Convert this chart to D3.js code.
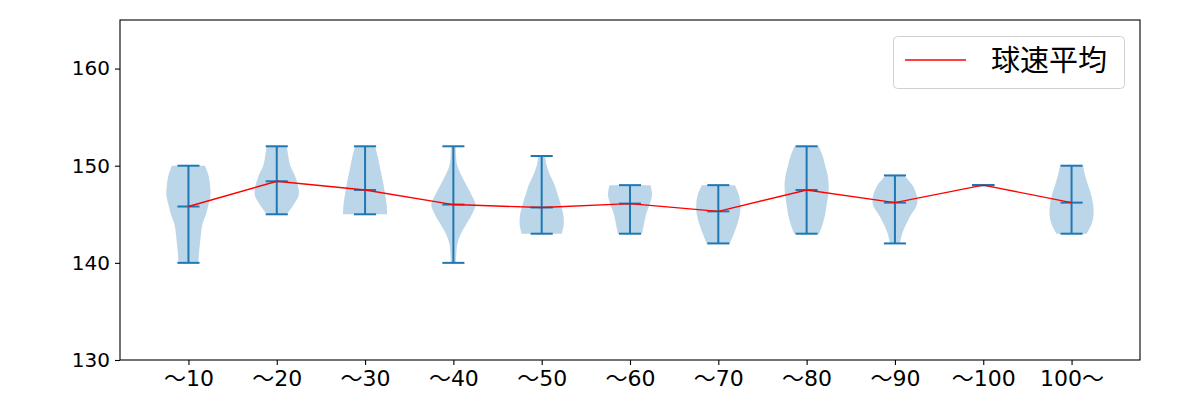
<!DOCTYPE html>
<html>
<head>
<meta charset="utf-8">
<script src="https://cdn.jsdelivr.net/npm/d3@7"></script>
<style>
  html, body { margin: 0; padding: 0; background: #fff; }
  svg { display: block; }
  text { font-family: "Noto Sans CJK JP", "Noto Sans", sans-serif; fill: #000; }
  .tick text { font-family: "DejaVu Sans", "Noto Sans CJK JP", sans-serif; }
</style>
</head>
<body>
<svg id="chart" width="1200" height="400"></svg>
<script>
// ---- data ----
const categories = ["〜10", "〜20", "〜30", "〜40", "〜50", "〜60", "〜70", "〜80", "〜90", "〜100", "100〜"];
const minValues  = [140, 145, 145, 140, 143, 143, 142, 143, 142, 148, 143];
const maxValues  = [150, 152, 152, 152, 151, 148, 148, 152, 149, 148, 150];
const meanValues = [145.8, 148.4, 147.5, 146.0, 145.7, 146.1, 145.3, 147.5, 146.2, 148.0, 146.2];
// relative violin widths, sampled at 1 km/h steps from max down to min
const densityProfiles = [
  [16.5, 20, 21.5, 22, 20, 17.5, 14, 12.5, 11.5, 10.5, 10],
  [10, 11.5, 13.5, 18, 21, 22, 17, 10],
  [10, 12.5, 14.5, 16.5, 18.5, 20, 21.5, 22],
  [2.3, 2.7, 4, 8, 13, 18, 22, 18.5, 13, 7.5, 4, 3, 2.5],
  [3.3, 5, 8.5, 13, 16, 19, 21.5, 22, 20],
  [20.5, 22, 19.5, 16, 14, 12],
  [16.5, 20.5, 22, 21.5, 19, 15.5, 11.5],
  [12, 16, 18.5, 21, 22, 21.5, 20, 18.5, 16, 12.5],
  [9, 17, 21, 21.5, 16, 11, 7, 5],
  [],
  [11.5, 13.5, 16.5, 19.5, 21.5, 22, 20, 15]
];
const yTicks = [130, 140, 150, 160];
const legendLabel = "球速平均";

// ---- layout ----
const svg = d3.select("#chart");
const mLeft = 120, mRight = 1140, mTop = 20, mBottom = 360;
const positions = categories.map((_, i) => i + 1);
const x = d3.scaleLinear().domain([0.225, 11.775]).range([mLeft, mRight]);
const y = d3.scaleLinear().domain([130, 165]).range([mBottom, mTop]);
const blue = "#1f77b4";
const halfW = x(0.25) - x(0);
const capW = x(0.125) - x(0);

const plot = svg.append("g");

// violin bodies
const area = d3.area()
  .y(d => y(d.v))
  .x0(d => d.c - d.w)
  .x1(d => d.c + d.w)
  .curve(d3.curveCatmullRom.alpha(0.5));

densityProfiles.forEach((prof, i) => {
  if (!prof.length) return;
  const mx = d3.max(prof);
  const c = x(positions[i]);
  const pts = prof.map((w, k) => ({ v: maxValues[i] - k, w: w / mx * halfW, c }));
  plot.append("path")
    .attr("d", area(pts))
    .attr("fill", blue)
    .attr("fill-opacity", 0.3)
    .attr("stroke", "none");
});

// vertical bars and caps
categories.forEach((cat, i) => {
  const c = x(positions[i]);
  plot.append("line")
    .attr("x1", c).attr("x2", c)
    .attr("y1", y(minValues[i])).attr("y2", y(maxValues[i]))
    .attr("stroke", blue).attr("stroke-width", 2);
  [minValues[i], maxValues[i], meanValues[i]].forEach(v => {
    plot.append("line")
      .attr("x1", c - capW).attr("x2", c + capW)
      .attr("y1", y(v)).attr("y2", y(v))
      .attr("stroke", blue).attr("stroke-width", 2);
  });
});

// mean line
const line = d3.line().x((d, i) => x(positions[i])).y(d => y(d));
plot.append("path")
  .attr("d", line(meanValues))
  .attr("fill", "none")
  .attr("stroke", "red")
  .attr("stroke-width", 1.4);

// axes
const xAxis = d3.axisBottom(x).tickValues(positions).tickFormat((d, i) => categories[i]).tickSize(5).tickPadding(5);
const gx = svg.append("g").attr("transform", `translate(0,${mBottom})`).call(xAxis);
gx.select(".domain").remove();
gx.selectAll("line").attr("stroke", "#000").attr("stroke-width", 1.1);
gx.selectAll("text").attr("font-size", 22).attr("fill", "#000");

const yAxis = d3.axisLeft(y).tickValues(yTicks).tickSize(5).tickPadding(5);
const gy = svg.append("g").attr("transform", `translate(${mLeft},0)`).call(yAxis);
gy.select(".domain").remove();
gy.selectAll("line").attr("stroke", "#000").attr("stroke-width", 1.1);
gy.selectAll("text").attr("font-size", 20).attr("fill", "#000");

// frame
svg.append("rect")
  .attr("x", mLeft).attr("y", mTop)
  .attr("width", mRight - mLeft).attr("height", mBottom - mTop)
  .attr("fill", "none").attr("stroke", "#000").attr("stroke-width", 1.1);

// legend
const lg = svg.append("g");
lg.append("rect")
  .attr("x", 893.5).attr("y", 36.5).attr("width", 231).attr("height", 52)
  .attr("rx", 4).attr("fill", "#fff").attr("fill-opacity", 0.8)
  .attr("stroke", "#d0d0d0").attr("stroke-width", 1);
lg.append("line")
  .attr("x1", 905).attr("x2", 966).attr("y1", 60).attr("y2", 60)
  .attr("stroke", "red").attr("stroke-width", 1.4);
lg.append("text")
  .attr("x", 991).attr("y", 71)
  .attr("font-size", 29)
  .text(legendLabel);
</script>
</body>
</html>
